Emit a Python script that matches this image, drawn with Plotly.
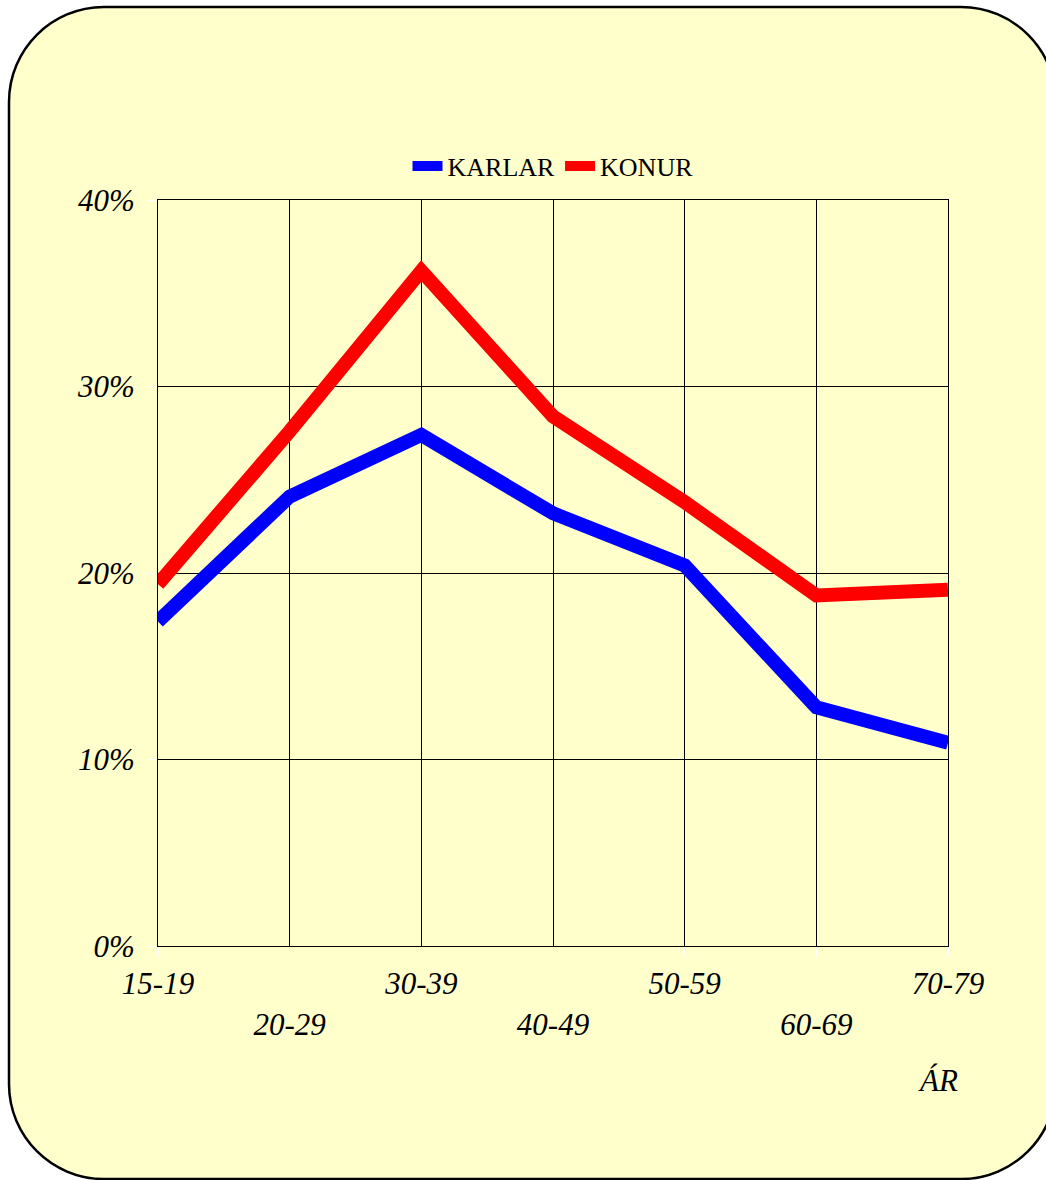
import plotly.graph_objects as go

categories = ["15-19", "20-29", "30-39", "40-49", "50-59", "60-69", "70-79"]
karlar = [17.4, 24.1, 27.4, 23.2, 20.4, 12.8, 10.9]
konur = [19.4, 27.6, 36.2, 28.4, 23.8, 18.8, 19.1]
y_ticks = [0, 10, 20, 30, 40]
y_tick_labels = ["0%", "10%", "20%", "30%", "40%"]
x_tick_labels = [c if i % 2 == 0 else "<br>" + c for i, c in enumerate(categories)]

W, H = 1046, 1180
L, R, T, B = 158, 948, 200, 946
pw, ph = R - L, B - T

def px(x):
    return (x - L) / pw

def py(y):
    return (B - y) / ph

# rounded rectangle background in paper coords
x0, x1, y0, y1, r = 9, 1056, 7, 1179, 95
k = 0.5523 * r
path = (
    f"M {px(x0 + r)},{py(y0)} L {px(x1 - r)},{py(y0)} "
    f"C {px(x1 - r + k)},{py(y0)} {px(x1)},{py(y0 + r - k)} {px(x1)},{py(y0 + r)} "
    f"L {px(x1)},{py(y1 - r)} "
    f"C {px(x1)},{py(y1 - r + k)} {px(x1 - r + k)},{py(y1)} {px(x1 - r)},{py(y1)} "
    f"L {px(x0 + r)},{py(y1)} "
    f"C {px(x0 + r - k)},{py(y1)} {px(x0)},{py(y1 - r + k)} {px(x0)},{py(y1 - r)} "
    f"L {px(x0)},{py(y0 + r)} "
    f"C {px(x0)},{py(y0 + r - k)} {px(x0 + r - k)},{py(y0)} {px(x0 + r)},{py(y0)} Z"
)

serif = "Liberation Serif, Times New Roman, serif"

fig = go.Figure()
fig.add_trace(go.Scatter(x=list(range(len(categories))), y=karlar, mode="lines",
                         name="KARLAR", line=dict(color="#0000FF", width=14)))
fig.add_trace(go.Scatter(x=list(range(len(categories))), y=konur, mode="lines",
                         name="KONUR", line=dict(color="#FF0000", width=14)))

fig.update_layout(
    width=W, height=H,
    margin=dict(l=L, r=W - R, t=T, b=H - B, pad=0),
    paper_bgcolor="white",
    plot_bgcolor="rgba(0,0,0,0)",
    showlegend=True,
    legend=dict(orientation="h", x=0.5, xanchor="center", y=py(166), yanchor="middle",
                font=dict(family=serif, size=26, color="black"),
                bgcolor="rgba(0,0,0,0)", itemwidth=30, tracegroupgap=0),
    shapes=[dict(type="path", path=path, xref="paper", yref="paper", layer="below",
                 fillcolor="#FFFFCC", line=dict(color="black", width=2.5))],
    annotations=[dict(text="ÁR", xref="paper", yref="paper", x=px(938), y=py(1080),
                      showarrow=False, xanchor="center", yanchor="middle",
                      font=dict(family=serif, size=31, color="black", style="italic"))],
)

fig.update_xaxes(
    range=[0, len(categories) - 1], tickmode="array",
    tickvals=list(range(len(categories))), ticktext=x_tick_labels,
    showgrid=True, gridcolor="black", gridwidth=1,
    showline=True, linecolor="black", linewidth=1, mirror=True,
    ticks="outside", ticklen=10, tickcolor="white", tickwidth=1,
    tickfont=dict(family=serif, size=31, color="black", style="italic"),
    zeroline=False, fixedrange=True,
)
fig.update_yaxes(
    range=[0, 40], tickmode="array", tickvals=y_ticks, ticktext=y_tick_labels,
    showgrid=True, gridcolor="black", gridwidth=1,
    showline=True, linecolor="black", linewidth=1, mirror=True,
    ticks="outside", ticklen=10, tickcolor="white", tickwidth=1,
    tickfont=dict(family=serif, size=31, color="black", style="italic"),
    ticklabelstandoff=6,
    zeroline=False, fixedrange=True,
)

fig.write_html("out.html", config={"displayModeBar": False},
               post_script="document.body.style.margin='0';document.body.style.overflow='hidden';")
